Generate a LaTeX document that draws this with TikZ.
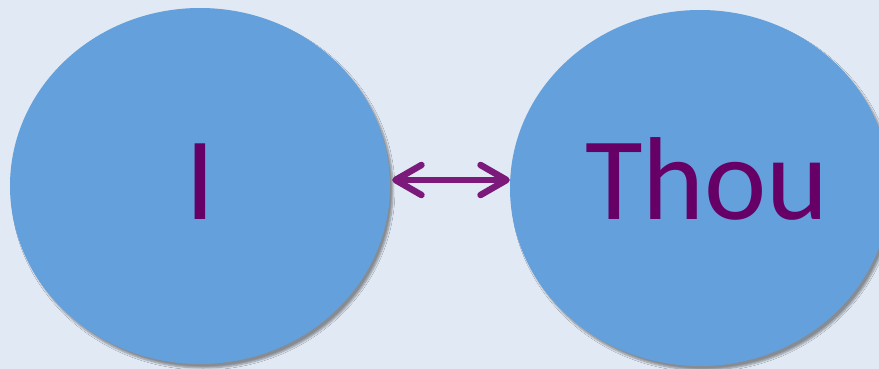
\documentclass[tikz,border=0pt]{standalone}
\usepackage{fontspec}
\setmainfont{Carlito}
\usetikzlibrary{arrows.meta,shadows.blur,shapes.geometric}
\definecolor{bgcol}{HTML}{E1E9F4}
\definecolor{discblue}{HTML}{64A0DB}
\definecolor{textpurple}{HTML}{660066}
\definecolor{arrowpurple}{HTML}{7B1A7B}
\tikzset{
  disc/.style={ellipse, fill=discblue, inner sep=0pt, draw=none,
    minimum width=380pt, minimum height=356pt,
    blur shadow={shadow xshift=3pt, shadow yshift=-4pt, shadow blur steps=6, shadow opacity=40}},
  bigword/.style={anchor=base, inner sep=0pt, text=textpurple,
    font=\fontsize{118}{120}\selectfont},
  barb/.tip={Straight Barb[length=26pt,width=30pt,line cap=round,line join=round]},
  link/.style={arrowpurple, line width=6.5pt, line cap=round, barb-barb},
}
\begin{document}
\begin{tikzpicture}[x=1pt,y=-1pt]
  \useasboundingbox (0,0) rectangle (879,369);
  \fill[bgcol] (0,0) rectangle (879,369);
  \clip (0,0) rectangle (879,369);
  % the two discs
  \node[disc] (me) at (200,186) {};
  \node[disc] (other) at (700,188) {};
  % words
  \node[bigword] (i) at (200,219) {I};
  \node[bigword] (thou) at (707,219) {Thou};
  % arrow between the discs
  \draw[link] ([shift={(2pt,6pt)}]me.east) -- ([shift={(0pt,8pt)}]other.west);
\end{tikzpicture}
\end{document}
